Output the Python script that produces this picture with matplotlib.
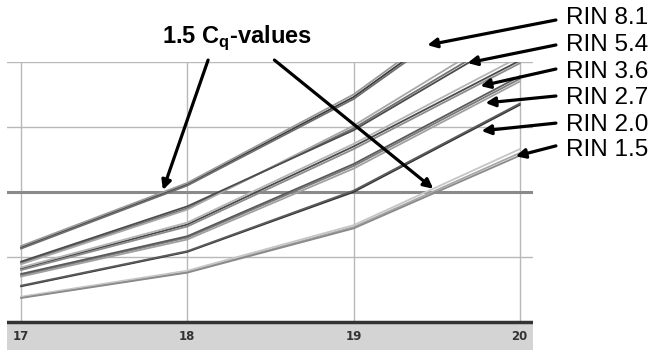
import matplotlib
matplotlib.use("Agg")
import matplotlib.pyplot as plt

plt.rcParams['font.family'] = ['Liberation Sans', 'DejaVu Sans']
plt.rcParams['mathtext.fontset'] = 'custom'
plt.rcParams['mathtext.rm'] = 'Liberation Sans'
plt.rcParams['mathtext.bf'] = 'Liberation Sans:bold'

# amplification curves (linear fluorescence, arbitrary units), replicates per RIN group
cycles = [17, 18, 19, 20]
rin_labels = ["RIN 8.1", "RIN 5.4", "RIN 3.6", "RIN 2.7", "RIN 2.0", "RIN 1.5"]
rin_81 = [[1.15, 2.12, 3.46, 5.30], [1.13, 2.10, 3.43, 5.25], [1.17, 2.14, 3.50, 5.36]]
rin_54 = [[0.91, 1.75, 2.98, 4.50], [0.89, 1.73, 3.02, 4.58], [0.93, 1.78, 2.95, 4.45]]
rin_36 = [[0.82, 1.50, 2.70, 4.02], [0.80, 1.47, 2.66, 3.98], [0.84, 1.53, 2.74, 4.08]]
rin_27 = [[0.72, 1.30, 2.40, 3.74], [0.70, 1.27, 2.36, 3.70], [0.74, 1.32, 2.43, 3.78]]
rin_20 = [[0.55, 1.08, 2.00, 3.34], [0.56, 1.09, 2.02, 3.36]]
rin_15 = [[0.38, 0.77, 1.46, 2.60], [0.39, 0.79, 1.49, 2.66], [0.37, 0.76, 1.44, 2.56]]
groups = [rin_81, rin_54, rin_36, rin_27, rin_20, rin_15]
threshold = 2.0
xticks = [17, 18, 19, 20]

group_shades = [
    ["#3c3c3c", "#6e6e6e", "#9a9a9a"],
    ["#707070", "#a8a8a8", "#4c4c4c"],
    ["#4a4a4a", "#8c8c8c", "#b4b4b4"],
    ["#7a7a7a", "#a0a0a0", "#5a5a5a"],
    ["#333333", "#5c5c5c"],
    ["#a6a6a6", "#c6c6c6", "#8a8a8a"],
]

fig = plt.figure(figsize=(6.52, 3.5), dpi=100)
ax = fig.add_axes([7 / 652, 0 / 350, 526 / 652, 288 / 350])
ax.set_xlim(16.915, 20.08)
ax.set_ylim(-0.43, 4.0)
ax.axis("off")

# grid
for x in xticks:
    ax.plot([x, x], [0, 4.0], color="#b8b8b8", lw=1.0, zorder=1)
for y in [1, 3, 4]:
    ax.axhline(y, color="#b8b8b8", lw=1.0, zorder=1)
ax.axhline(threshold, color="#8a8a8a", lw=2.2, zorder=2)

# bottom band with tick labels
ax.axhspan(-0.43, 0, color="#d4d4d4", zorder=1, lw=0)
ax.axhline(0, color="#333333", lw=2.5, zorder=4)
for x in xticks:
    ax.text(x, -0.215, str(x), ha="center", va="center", fontsize=8.5,
            color="#333333", fontweight="bold",
            family=["Liberation Sans Narrow", "DejaVu Sans"])

for g, shades in zip(groups, group_shades):
    for i, rep in enumerate(g):
        ax.plot(cycles, rep, color=shades[i], lw=1.3, zorder=3)

# annotations
ax.text(18.30, 4.37, r"1.5 C$_\mathbf{q}$-values", ha="center", va="center",
        fontsize=17, fontweight="bold", clip_on=False)
arrow = dict(arrowstyle="-|>", lw=2.3, color="black", mutation_scale=14,
             shrinkA=0, shrinkB=0)
ax.annotate("", xy=(17.853, 2.03), xytext=(18.125, 4.03), arrowprops=arrow,
            annotation_clip=False)
ax.annotate("", xy=(19.48, 2.05), xytext=(18.524, 4.03), arrowprops=arrow,
            annotation_clip=False)

label_y = [4.68, 4.26, 3.85, 3.45, 3.03, 2.65]
tail_y = [4.646, 4.262, 3.892, 3.477, 3.06, 2.71]
tips = [(19.444, 4.26), (19.686, 3.985), (19.764, 3.63), (19.794, 3.37),
        (19.770, 2.94), (19.976, 2.55)]
for lab, ly, ty, tip in zip(rin_labels, label_y, tail_y, tips):
    ax.text(20.28, ly, lab, ha="left", va="center", fontsize=17.5, clip_on=False)
    ax.annotate("", xy=tip, xytext=(20.218, ty), arrowprops=arrow,
                annotation_clip=False)

fig.savefig("out.png", dpi=100)
